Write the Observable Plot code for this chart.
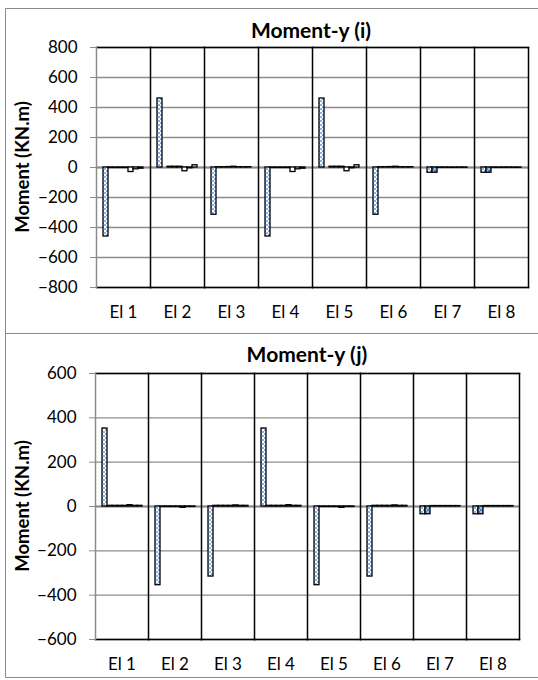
<!DOCTYPE html>
<html>
<head>
<meta charset="utf-8">
<script src="https://cdn.jsdelivr.net/npm/d3@7"></script>
<script src="https://cdn.jsdelivr.net/npm/@observablehq/plot@0.6"></script>
<style>
  body { margin: 0; background: #fff; }
  #wrap { position: relative; width: 538px; height: 680px; overflow: hidden; font-family: Lato, "DejaVu Sans", sans-serif; }
  #wrap > svg, #wrap > figure { position: absolute; left: 0; margin: 0; }
  .overlay { position: absolute; left: 0; top: 0; pointer-events: none; }
</style>
</head>
<body>
<!-- fill patterns shared by both charts -->
<svg width="0" height="0" style="position:absolute">
  <defs>
    <pattern id="dotsA" width="4" height="4" patternUnits="userSpaceOnUse">
      <rect width="4" height="4" fill="#ffffff"/>
      <rect width="2" height="2" fill="#8ab2e6"/>
      <rect x="2" y="2" width="2" height="2" fill="#8ab2e6"/>
    </pattern>
    <pattern id="dotsB" width="4" height="4" patternUnits="userSpaceOnUse">
      <rect width="4" height="4" fill="#9dbde8"/>
      <rect width="2" height="2" fill="#4a7fcb"/>
      <rect x="2" y="2" width="2" height="2" fill="#4a7fcb"/>
    </pattern>
  </defs>
</svg>
<div id="wrap"></div>
<script>
// Elements along the frame, and the eight load cases plotted per element
const elements = ["El 1", "El 2", "El 3", "El 4", "El 5", "El 6", "El 7", "El 8"];
const loadCases = ["c1", "c2", "c3", "c4", "c5", "c6", "c7", "c8"];

// Moment-y at end i (KN.m), one row per element, one value per load case
const momentI = [
  [-460, -3, -3, -3, -3, -30, -12, -8],
  [460, 0, 5, 5, 5, -25, -5, 15],
  [-315, 2, 2, 3, 5, 2, 2, 2],
  [-460, -3, -3, -3, -3, -30, -12, -8],
  [460, 0, 5, 5, 5, -25, -5, 15],
  [-315, 2, 2, 3, 5, 2, 2, 2],
  [-35, -35, -2, -2, -2, -2, -2, -2],
  [-35, -35, -2, -2, -2, -2, -2, -2]
];

// Moment-y at end j (KN.m)
const momentJ = [
  [352, 3, 3, 3, 3, 6, 3, 3],
  [-355, -2, -2, -2, -2, -6, -2, -2],
  [-316, 3, 3, 3, 3, 5, 3, 3],
  [352, 3, 3, 3, 3, 6, 3, 3],
  [-355, -2, -2, -2, -2, -6, -2, -2],
  [-316, 3, 3, 3, 3, 5, 3, 3],
  [-35, -35, 2, 2, 2, 2, 2, 2],
  [-35, -35, 2, 2, 2, 2, 2, 2]
];

const ticksI = [-800, -600, -400, -200, 0, 200, 400, 600, 800];
const ticksJ = [-600, -400, -200, 0, 200, 400, 600];

const titles = ["Moment-y (i)", "Moment-y (j)"];
const yLabel = "Moment (KN.m)";

const gridGray = "#8c8c8c";

function momentChart(values, ticks, m, height) {
  const rows = elements.flatMap((el, i) =>
    loadCases.map((c, k) => ({el, c, k, v: values[i][k]}))
  );
  const bar = (filter, fill) =>
    Plot.barY(rows, {filter, fx: "el", x: "c", y: "v", fill, stroke: "#000", strokeWidth: 1.3});
  return Plot.plot({
    width: 538,
    height,
    marginTop: m.top,
    marginRight: m.right,
    marginBottom: m.bottom,
    marginLeft: m.left,
    style: {fontFamily: "Lato, 'DejaVu Sans', sans-serif", fontSize: "17px", color: "#000", background: "transparent", overflow: "visible"},
    fx: {domain: elements, padding: 0, label: null},
    x: {domain: loadCases, paddingInner: 0, paddingOuter: 0.75, axis: null},
    y: {domain: [ticks[0], ticks[ticks.length - 1]], label: null},
    marks: [
      Plot.gridY(ticks, {stroke: gridGray, strokeOpacity: 1, strokeWidth: 1.3}),
      Plot.ruleY([0], {stroke: gridGray, strokeWidth: 2}),
      bar(d => d.k === 0, "url(#dotsA)"),
      bar(d => d.k === 1, "url(#dotsB)"),
      bar(d => d.k > 1, "#ffffff"),
      Plot.frame({anchor: "top", stroke: "#000", strokeWidth: 1.5}),
      Plot.frame({anchor: "bottom", stroke: "#000", strokeWidth: 1.5}),
      Plot.frame({anchor: "right", stroke: "#000", strokeWidth: 1.5}),
      Plot.frame({anchor: "left", fx: [elements[0]], stroke: gridGray, strokeWidth: 1.5}),
      Plot.axisY(ticks, {anchor: "left", tickSize: 6, tickPadding: 13, stroke: gridGray, label: null}),
      Plot.axisFx({anchor: "bottom", tickSize: 0, tickPadding: 18, label: null})
    ]
  });
}

const wrap = document.getElementById("wrap");

const chartI = momentChart(momentI, ticksI, {top: 47, right: 10, bottom: 46, left: 96}, 333);
chartI.style.top = "0px";
wrap.appendChild(chartI);

const chartJ = momentChart(momentJ, ticksJ, {top: 40, right: 18, bottom: 41, left: 94}, 347);
chartJ.style.top = "333px";
wrap.appendChild(chartJ);

// Panel borders, chart titles and the y-axis titles
const ov = d3.select(wrap).append("svg")
  .attr("class", "overlay")
  .attr("width", 538).attr("height", 680)
  .style("font-family", "Lato, 'DejaVu Sans', sans-serif");

ov.append("path")
  .attr("d", "M538,8.5H5.5V677.5H538M5.5,333.5H538")
  .attr("fill", "none").attr("stroke", "#8a8a8a").attr("stroke-width", 1);

const panels = [
  {title: titles[0], cx: 311, ty: 38, ly: 167},
  {title: titles[1], cx: 307, ty: 362, ly: 506}
];
for (const p of panels) {
  ov.append("text").attr("x", p.cx).attr("y", p.ty)
    .attr("text-anchor", "middle").attr("font-weight", "bold").attr("font-size", 21)
    .text(p.title);
  ov.append("text").attr("transform", `translate(29,${p.ly}) rotate(-90)`)
    .attr("text-anchor", "middle").attr("font-weight", "bold").attr("font-size", 18.5)
    .text(yLabel);
}
</script>
</body>
</html>
